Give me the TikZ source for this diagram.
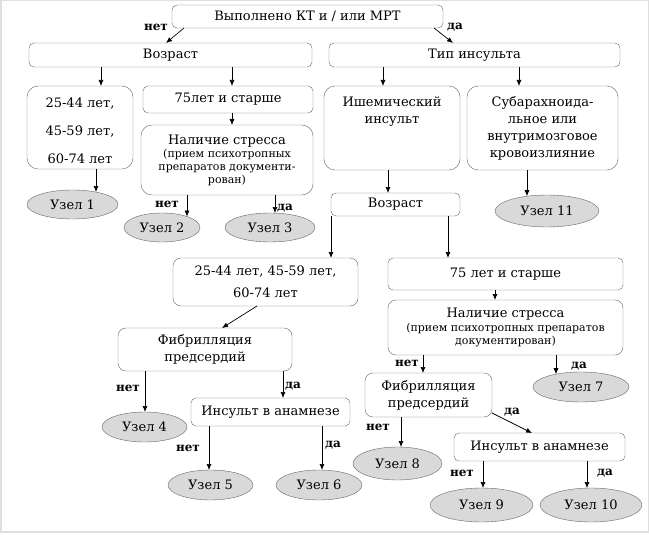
\documentclass[tikz,border=0pt]{standalone}
\usepackage{fontspec}
\setmainfont{DejaVu Serif}
\usetikzlibrary{arrows.meta,shapes.geometric}
\definecolor{boxline}{gray}{0.4}
\definecolor{leafgray}{gray}{0.85}
\newcommand\smtxt{\fontsize{11}{12}\selectfont}
\tikzset{
  box/.style={draw=boxline, rounded corners=5pt, align=center, inner sep=0pt, outer sep=0pt,
    font=\fontsize{13}{17}\selectfont},
  midbox/.style={box, rounded corners=8pt},
  tallbox/.style={box, rounded corners=11pt},
  leaf/.style={draw=boxline, fill=leafgray, ellipse, inner sep=0pt, outer sep=0pt,
    font=\fontsize{13}{17}\selectfont},
  arr/.style={-{Latex[length=6pt,width=5pt]}, line width=0.7pt},
  lbl/.style={font=\bfseries\fontsize{12}{14}\selectfont, inner sep=0pt}
}
\begin{document}
\begin{tikzpicture}[x=1pt, y=-1pt]
  \useasboundingbox (0,0) rectangle (649,535);
  \draw[gray!25, line width=1.5pt] (0.75,0.75) rectangle (648.25,532);

  \node[box, minimum width=271, minimum height=23] (kt) at (307.5,16.5) {Выполнено КТ и / или МРТ};
  \node[box, minimum width=283, minimum height=24] (vozr1) at (170.5,55) {Возраст};
  \node[box, minimum width=291, minimum height=24] (tip) at (474.5,55) {Тип инсульта};

  % without imaging
  \node[tallbox, minimum width=106, minimum height=83] (age1) at (80,127.5)
    {\parbox[c][59pt][t]{100pt}{\centering\fontsize{13}{28}\selectfont 25-44 лет,\\45-59 лет,\\60-74 лет}};
  \node[box, minimum width=170, minimum height=27] (old1) at (228,99.5) {75лет и старше};
  \node[tallbox, minimum width=172, minimum height=70] (stress1) at (227,160)
    {Наличие стресса\\[-4pt] \smtxt (прием психотропных\\[-4pt] \smtxt препаратов документи-\\[-4pt] \smtxt рован)};
  \node[leaf, minimum width=91, minimum height=29] (u1) at (72.5,204.5) {Узел 1};
  \node[leaf, minimum width=76, minimum height=29] (u2) at (162,227.5) {Узел 2};
  \node[leaf, minimum width=90, minimum height=29] (u3) at (270,227.5) {Узел 3};

  % stroke type
  \node[tallbox, minimum width=136, minimum height=84] (isch) at (392,128)
    {\parbox[c][62pt][t]{130pt}{\centering Ишемический\\ инсульт}};
  \node[tallbox, minimum width=151, minimum height=84] (subar) at (542.5,128)
    {Субарахноида-\\льное или\\внутримозговое\\кровоизлияние};
  \node[box, minimum width=129, minimum height=23] (vozr2) at (395.5,204.5) {Возраст};
  \node[leaf, minimum width=104, minimum height=32] (u11) at (547,211) {Узел 11};

  \node[midbox, minimum width=185, minimum height=48, font=\fontsize{13}{22}\selectfont] (age2) at (265.5,282)
    {25-44 лет, 45-59 лет,\\60-74 лет};
  \node[box, minimum width=235, minimum height=32] (old2) at (505.5,274) {75 лет и старше};
  \node[midbox, minimum width=235, minimum height=55] (stress2) at (505.5,327.5)
    {Наличие стресса\\[-3pt] \smtxt (прием психотропных препаратов\\[-4pt] \smtxt документирован)};

  \node[midbox, minimum width=174, minimum height=43] (fib1) at (205,349.5) {Фибрилляция\\предсердий};
  \node[leaf, minimum width=85, minimum height=30] (u4) at (144.5,427) {Узел 4};
  \node[box, minimum width=159, minimum height=28] (ins1) at (270.5,412) {Инсульт в анамнезе};
  \node[leaf, minimum width=85, minimum height=30] (u5) at (210.5,485) {Узел 5};
  \node[leaf, minimum width=86, minimum height=30] (u6) at (319,485) {Узел 6};

  \node[midbox, minimum width=127, minimum height=44] (fib2) at (428.5,395) {Фибрилляция\\предсердий};
  \node[leaf, minimum width=96, minimum height=30] (u7) at (581,387) {Узел 7};
  \node[leaf, minimum width=89, minimum height=33] (u8) at (397.5,463.5) {Узел 8};
  \node[box, minimum width=171, minimum height=28] (ins2) at (539.5,447) {Инсульт в анамнезе};
  \node[leaf, minimum width=103, minimum height=34] (u9) at (481.5,505) {Узел 9};
  \node[leaf, minimum width=102, minimum height=34] (u10) at (591,505) {Узел 10};

  % connectors
  \draw[arr] ([xshift=-123.5]kt.south) -- ([xshift=-4.5]vozr1.north);
  \draw[arr] ([xshift=126.5]kt.south) -- ([xshift=-21.5]tip.north);
  \draw[arr] ([xshift=-69.5]vozr1.south) -- ([xshift=21]age1.north);
  \draw[arr] ([xshift=61.5]vozr1.south) -- ([xshift=4]old1.north);
  \draw[arr] ([xshift=-91.5]tip.south) -- ([xshift=-9]isch.north);
  \draw[arr] ([xshift=44.5]tip.south) -- ([xshift=-23.5]subar.north);
  \draw[arr] ([xshift=4]old1.south) -- ([xshift=5]stress1.north);
  \draw[arr] ([xshift=16]age1.south) -- ([xshift=23.5,yshift=-2]u1.north);
  \draw[arr] ([xshift=-40]stress1.south) -- ([xshift=25,yshift=-3.6]u2.north);
  \draw[arr] ([xshift=48]stress1.south) -- ([xshift=5]u3.north);
  \draw[arr] ([xshift=-4]isch.south) -- ([xshift=-7.5]vozr2.north);
  \draw[arr] ([xshift=-15.5]subar.south) -- ([xshift=-20,yshift=-1.2]u11.north);
  \draw[arr] ([xshift=-64.5]vozr2.south) -- ([xshift=65.5]age2.north);
  \draw[arr] ([xshift=52.5]vozr2.south) -- ([xshift=-57.5]old2.north);
  \draw[arr] ([xshift=-8.5]age2.south) -- ([xshift=17]fib1.north);
  \draw[arr] ([xshift=-10.5]old2.south) -- ([xshift=-10.5]stress2.north);
  \draw[arr] ([xshift=-82.5]stress2.south) -- ([xshift=-5.5]fib2.north);
  \draw[arr] ([xshift=50.5]stress2.south) -- ([xshift=-25,yshift=-2.2]u7.north);
  \draw[arr] ([xshift=-60]fib1.south) -- ([xshift=0.5]u4.north);
  \draw[arr] ([xshift=78]fib1.south) -- ([xshift=12.5]ins1.north);
  \draw[arr] ([xshift=-61.5]ins1.south) -- ([xshift=-1.5]u5.north);
  \draw[arr] ([xshift=51.5]ins1.south) -- ([xshift=3]u6.north);
  \draw[arr] ([xshift=-27.5]fib2.south) -- ([xshift=3.5]u8.north);
  \draw[arr] ([yshift=4]fib2.south east) -- ([xshift=-7.5]ins2.north);
  \draw[arr] ([xshift=-56.5]ins2.south) -- ([xshift=1.5]u9.north);
  \draw[arr] ([xshift=47.5]ins2.south) -- ([xshift=-4]u10.north);

  % answers
  \node[lbl] (net1) at (156,27) {нет};
  \node[lbl] (da1) at (455,27) {да};
  \node[lbl] (net2) at (167,204) {нет};
  \node[lbl] (da2) at (285,208) {да};
  \node[lbl] (net3) at (407,363) {нет};
  \node[lbl] (da3) at (579,366) {да};
  \node[lbl] (net4) at (128,388) {нет};
  \node[lbl] (da4) at (293,386) {да};
  \node[lbl] (net5) at (188,448) {нет};
  \node[lbl] (da5) at (333,445) {да};
  \node[lbl] (net6) at (378,427) {нет};
  \node[lbl] (da6) at (512,412) {да};
  \node[lbl] (net7) at (462,473) {нет};
  \node[lbl] (da7) at (605,473) {да};
\end{tikzpicture}
\end{document}
